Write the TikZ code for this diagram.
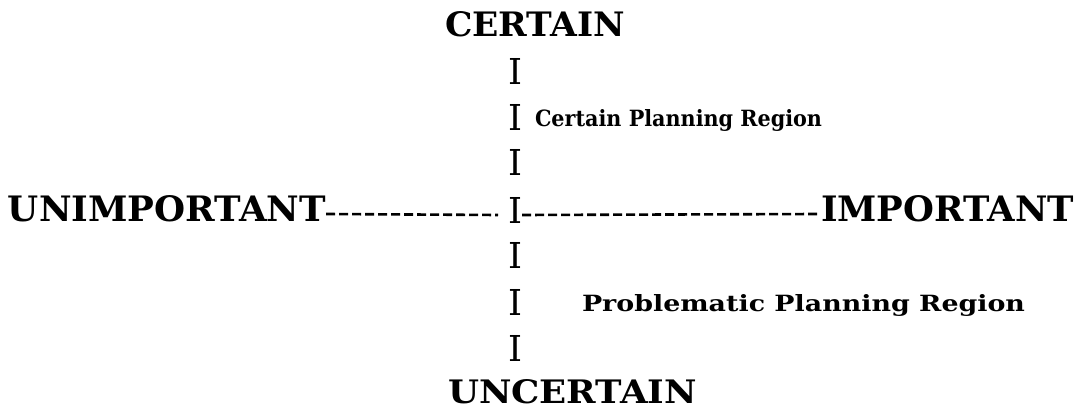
\documentclass[tikz,border=0pt]{standalone}
\usepackage{fontspec}
\usepackage{graphicx}
\setmainfont{DejaVu Serif}
\tikzset{
  lbl/.style={inner sep=0pt, outer sep=0pt, anchor=base west, text=black},
  dashline/.style={line width=2.6pt, dash pattern=on 9pt off 4pt, black}
}
\newcommand{\fitb}[3]{\resizebox{#1}{#2}{#3}}
\begin{document}
\begin{tikzpicture}[x=1pt,y=-1pt]
\useasboundingbox[fill=white] (0,0) rectangle (1077,409);
% vertical axis ends
\node[lbl] (cert) at (445,37) {\fitb{180pt}{25pt}{\bfseries CERTAIN}};
\node[lbl] (uncert) at (448,403) {\fitb{249pt}{24pt}{\bfseries UNCERTAIN}};
% the I column
\node[lbl] (i1) at (508,85) {\fitb{14pt}{26pt}{I}};
\node[lbl] (i2) at (508,131) {\fitb{14pt}{26pt}{I}};
\node[lbl] (i3) at (508,176) {\fitb{14pt}{26pt}{I}};
\node[lbl] (i4) at (508,223) {\fitb{14pt}{26pt}{I}};
\node[lbl] (i5) at (508,269) {\fitb{14pt}{26pt}{I}};
\node[lbl] (i6) at (508,315) {\fitb{14pt}{26pt}{I}};
\node[lbl] (i7) at (508,361) {\fitb{14pt}{26pt}{I}};
% horizontal axis ends
\node[lbl] (unimp) at (8,222) {\fitb{318pt}{26pt}{\bfseries UNIMPORTANT}};
\node[lbl] (imp) at (821,222) {\fitb{253pt}{26pt}{\bfseries IMPORTANT}};
% region labels
\node[lbl] (cpr) at (535,127) {\fitb{287pt}{17pt}{\bfseries Certain Planning Region}};
\node[lbl] (ppr) at (582,311) {\fitb{443pt}{17pt}{\bfseries Problematic Planning Region}};
% dashed axis
\draw[dashline] ([yshift=8pt]unimp.base east) -- ([xshift=-10pt,yshift=8pt]i4.base west);
\draw[dashline] ([yshift=8pt]i4.base east) -- ([xshift=-3pt,yshift=8pt]imp.base west);
\end{tikzpicture}
\end{document}
